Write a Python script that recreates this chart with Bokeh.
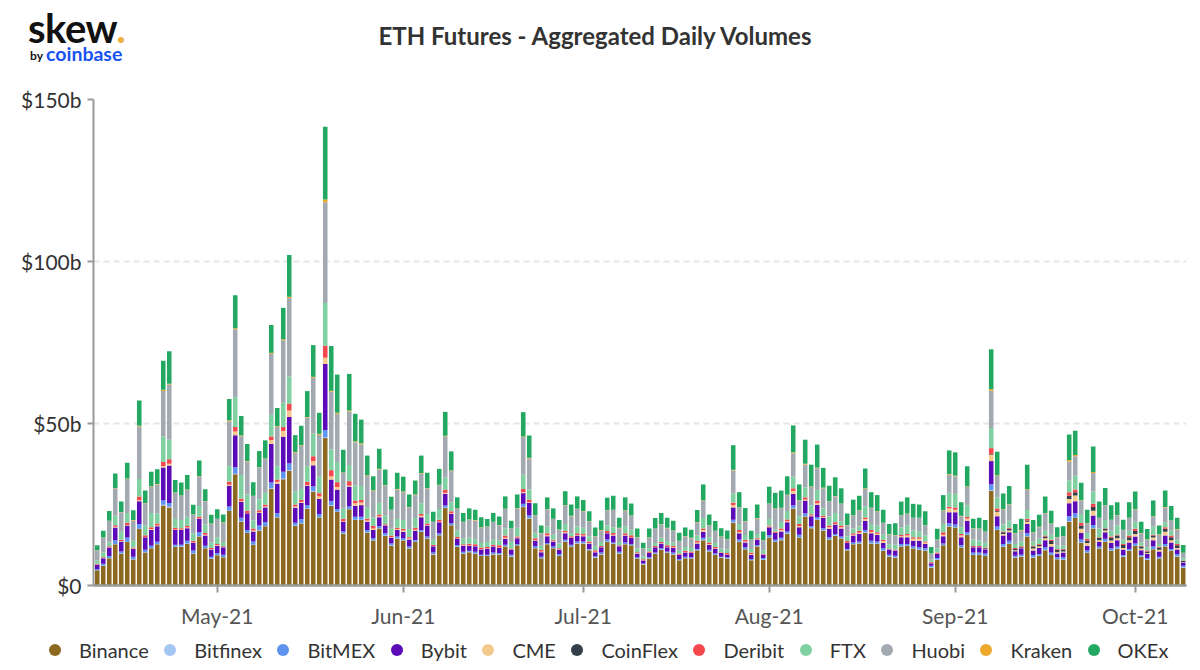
import pandas as pd
from bokeh.plotting import figure
from bokeh.layouts import column
from bokeh.models import Range1d, FixedTicker, DatetimeTickFormatter, Div
from bokeh.embed import file_html
from bokeh.resources import INLINE

START_DATE = "2021-04-11"
TITLE = "ETH Futures - Aggregated Daily Volumes"
EXCHANGES = ["Binance", "Bitfinex", "BitMEX", "Bybit", "CME", "CoinFlex",
             "Deribit", "FTX", "Huobi", "Kraken", "OKEx"]
COLORS = ["#8d6820", "#a3c6f5", "#5e93ef", "#5c0bb8", "#f4ca8c", "#343e48",
          "#f5484e", "#80d0a2", "#a2a9b0", "#eca92d", "#23a862"]
Y_TICKS = [0, 50, 100, 150]
Y_TICK_LABELS = ["$0", "$50b", "$100b", "$150b"]
MONTH_TICKS = ["2021-05-01", "2021-06-01", "2021-07-01", "2021-08-01", "2021-09-01", "2021-10-01"]

binance = [4.7, 6.1, 8.4, 12.7, 9.8, 13.4, 8.0, 17.4, 10.2, 11.5,
           12.7, 24.7, 24.1, 11.9, 11.9, 12.9, 9.8, 15.1, 11.5, 8.2,
           9.3, 8.7, 23.0, 34.3, 19.7, 16.2, 12.5, 17.0, 18.3, 29.9,
           21.0, 32.8, 35.4, 18.4, 19.1, 23.7, 29.0, 21.0, 45.5, 24.6,
           22.7, 16.0, 23.5, 20.2, 20.2, 16.3, 13.9, 17.6, 15.3, 12.3,
           14.4, 13.9, 11.4, 13.4, 16.5, 14.5, 9.6, 15.5, 23.9, 18.6,
           11.9, 9.8, 10.3, 9.8, 9.1, 9.1, 9.6, 9.6, 12.0, 8.9,
           12.4, 24.2, 20.7, 11.5, 8.4, 12.7, 11.5, 9.1, 13.5, 12.0,
           13.0, 13.0, 10.9, 8.6, 9.6, 13.5, 12.9, 9.9, 12.7, 12.4,
           8.3, 6.5, 8.3, 9.8, 11.0, 10.1, 9.6, 7.8, 8.4, 8.3,
           10.9, 14.0, 10.5, 9.4, 8.6, 8.3, 19.4, 13.5, 11.2, 7.8,
           12.0, 7.9, 14.8, 13.4, 14.0, 16.0, 23.7, 14.8, 21.3, 17.7,
           20.3, 17.0, 14.2, 15.3, 14.5, 10.9, 12.7, 13.0, 16.3, 13.0,
           12.9, 10.7, 8.9, 8.6, 12.0, 12.2, 11.4, 11.0, 10.7, 5.5,
           7.9, 12.4, 18.2, 17.9, 11.7, 15.6, 9.4, 9.4, 9.1, 29.2,
           17.1, 11.9, 12.9, 8.6, 8.9, 15.1, 8.6, 9.1, 10.9, 9.4,
           8.1, 7.9, 19.7, 20.8, 13.2, 10.1, 17.6, 11.4, 13.5, 10.7,
           11.3, 8.9, 10.7, 12.2, 8.9, 7.9, 11.2, 8.3, 12.0, 10.7,
           8.9, 5.5]

bitfinex = [0.1, 0.1, 0.1, 0.1, 0.1, 0.1, 0.1, 0.1, 0.1, 0.1,
            0.1, 0.2, 0.2, 0.1, 0.1, 0.1, 0.1, 0.1, 0.1, 0.1,
            0.1, 0.1, 0.1, 0.2, 0.1, 0.1, 0.1, 0.1, 0.1, 0.2,
            0.1, 0.2, 0.2, 0.1, 0.1, 0.1, 0.2, 0.1, 0.3, 0.2,
            0.1, 0.1, 0.1, 0.1, 0.1, 0.1, 0.1, 0.1, 0.1, 0.1,
            0.1, 0.1, 0.1, 0.1, 0.1, 0.1, 0.1, 0.1, 0.1, 0.1,
            0.1, 0.1, 0.1, 0.1, 0.1, 0.1, 0.1, 0.1, 0.1, 0.1,
            0.1, 0.1, 0.1, 0.1, 0.1, 0.1, 0.1, 0.1, 0.1, 0.1,
            0.1, 0.1, 0.1, 0.1, 0.1, 0.1, 0.1, 0.1, 0.1, 0.1,
            0.1, 0.1, 0.1, 0.1, 0.1, 0.1, 0.1, 0.1, 0.1, 0.1,
            0.1, 0.1, 0.1, 0.1, 0.1, 0.1, 0.1, 0.1, 0.1, 0.1,
            0.1, 0.1, 0.1, 0.1, 0.1, 0.1, 0.1, 0.1, 0.1, 0.1,
            0.1, 0.1, 0.1, 0.1, 0.1, 0.1, 0.1, 0.1, 0.1, 0.1,
            0.1, 0.1, 0.1, 0.1, 0.1, 0.1, 0.1, 0.1, 0.1, 0.1,
            0.1, 0.1, 0.1, 0.1, 0.1, 0.1, 0.1, 0.1, 0.1, 0.2,
            0.1, 0.1, 0.1, 0.1, 0.1, 0.1, 0.1, 0.1, 0.1, 0.1,
            0.1, 0.1, 0.1, 0.1, 0.1, 0.1, 0.1, 0.1, 0.1, 0.1,
            0.1, 0.1, 0.1, 0.1, 0.1, 0.1, 0.1, 0.1, 0.1, 0.1,
            0.1, 0.1]

bitmex = [0.3, 0.5, 0.6, 1.2, 0.6, 1.3, 0.8, 1.5, 0.7, 0.7,
          0.7, 1.4, 1.2, 0.6, 0.6, 0.8, 0.9, 1.2, 0.7, 0.6,
          0.6, 0.7, 1.3, 2.0, 1.1, 0.8, 1.0, 1.4, 1.1, 1.7,
          1.2, 2.1, 2.1, 0.9, 1.3, 1.0, 1.4, 1.0, 2.2, 1.3,
          0.8, 0.6, 0.8, 0.9, 0.9, 0.7, 0.6, 0.6, 0.7, 0.6,
          0.6, 0.6, 0.5, 0.5, 0.5, 0.5, 0.5, 0.5, 0.7, 0.5,
          0.5, 0.5, 0.3, 0.5, 0.3, 0.3, 0.5, 0.3, 0.5, 0.5,
          0.3, 0.9, 0.8, 0.5, 0.4, 0.3, 0.4, 0.5, 0.5, 0.5,
          0.5, 0.5, 0.3, 0.3, 0.5, 0.6, 0.3, 0.4, 0.5, 0.3,
          0.3, 0.2, 0.3, 0.3, 0.4, 0.3, 0.5, 0.3, 0.4, 0.3,
          0.3, 0.6, 0.4, 0.4, 0.2, 0.3, 0.8, 0.6, 0.5, 0.3,
          0.4, 0.5, 0.7, 0.6, 0.6, 0.6, 0.9, 0.8, 0.9, 0.5,
          0.7, 0.6, 0.6, 0.5, 0.5, 0.3, 0.5, 0.5, 0.7, 0.7,
          0.6, 0.7, 0.5, 0.5, 0.7, 0.5, 0.6, 0.7, 0.7, 0.5,
          0.5, 0.5, 0.9, 0.8, 0.7, 0.7, 0.7, 0.7, 0.7, 1.8,
          1.0, 0.8, 0.8, 0.5, 0.5, 0.9, 0.7, 0.5, 0.8, 0.7,
          0.5, 0.7, 1.6, 1.4, 0.9, 0.6, 1.0, 0.5, 0.8, 0.7,
          0.6, 0.4, 0.5, 0.7, 0.4, 0.4, 0.7, 0.5, 0.7, 0.5,
          0.7, 0.5]

bybit = [1.3, 1.7, 2.6, 3.9, 3.1, 3.7, 2.4, 7.0, 3.9, 4.8,
         4.8, 10.1, 11.5, 4.5, 4.5, 3.9, 2.3, 4.1, 3.1, 2.2,
         2.3, 2.3, 6.4, 9.9, 4.9, 5.2, 3.1, 3.9, 4.6, 11.9,
         9.1, 10.8, 14.3, 4.6, 5.0, 6.0, 6.5, 4.6, 20.4, 6.6,
         6.0, 3.0, 6.1, 3.4, 3.6, 2.6, 2.5, 2.8, 2.4, 1.7,
         2.0, 2.0, 2.2, 2.9, 4.0, 3.4, 1.9, 3.4, 3.6, 2.9,
         1.9, 1.9, 1.6, 1.7, 1.6, 1.8, 1.8, 1.6, 1.8, 1.6,
         1.8, 3.3, 3.9, 1.7, 1.4, 2.1, 1.6, 1.4, 2.0, 2.1,
         1.8, 1.6, 1.7, 1.3, 1.6, 1.9, 2.1, 1.7, 2.1, 1.9,
         1.2, 0.9, 1.3, 1.6, 1.5, 1.3, 1.4, 1.2, 1.3, 1.3,
         1.7, 1.9, 1.5, 1.4, 1.1, 0.8, 3.8, 1.9, 1.5, 1.2,
         1.7, 1.0, 2.4, 2.1, 2.0, 2.8, 3.6, 2.3, 3.9, 3.1,
         3.8, 3.1, 2.6, 2.9, 2.5, 1.8, 2.1, 2.3, 2.9, 2.3,
         2.0, 1.6, 1.6, 1.6, 2.1, 2.1, 1.7, 2.0, 1.3, 0.8,
         1.2, 2.2, 3.4, 3.8, 2.4, 3.6, 1.6, 1.6, 1.3, 7.2,
         3.2, 2.6, 2.6, 1.4, 2.0, 2.9, 1.4, 1.9, 2.2, 1.8,
         1.2, 1.5, 4.0, 3.7, 2.0, 1.5, 2.9, 1.5, 2.0, 1.6,
         2.0, 1.7, 2.0, 2.1, 1.5, 1.3, 2.0, 1.6, 2.6, 2.0,
         1.4, 0.9]

cme = [0.1, 0.1, 0.1, 0.2, 0.1, 0.2, 0.1, 0.3, 0.1, 0.3,
       0.2, 0.5, 0.6, 0.2, 0.2, 0.2, 0.2, 0.2, 0.3, 0.2,
       0.2, 0.1, 0.3, 1.1, 0.2, 0.1, 0.3, 0.2, 0.3, 1.2,
       0.6, 1.8, 2.0, 0.4, 0.3, 0.2, 1.3, 0.8, 1.9, 1.0,
       0.8, 0.1, 0.3, 0.8, 0.8, 0.4, 0.5, 0.3, 0.1, 0.2,
       0.3, 0.4, 0.3, 0.3, 0.4, 0.2, 0.1, 0.2, 0.3, 0.2,
       0.1, 0.1, 0.1, 0.1, 0.1, 0.1, 0.1, 0.1, 0.3, 0.1,
       0.1, 0.3, 0.2, 0.2, 0.2, 0.3, 0.2, 0.2, 0.3, 0.1,
       0.2, 0.2, 0.1, 0.1, 0.1, 0.1, 0.3, 0.1, 0.2, 0.1,
       0.1, 0.1, 0.1, 0.1, 0.1, 0.1, 0.2, 0.1, 0.1, 0.1,
       0.3, 0.5, 0.3, 0.1, 0.1, 0.1, 0.7, 0.4, 0.3, 0.3,
       0.2, 0.1, 0.2, 0.1, 0.4, 0.3, 0.9, 0.4, 0.3, 0.2,
       0.5, 0.3, 0.5, 0.2, 0.4, 0.1, 0.3, 0.4, 0.5, 0.4,
       0.4, 0.6, 0.1, 0.1, 0.3, 0.5, 0.6, 0.6, 0.5, 0.1,
       0.1, 0.5, 1.2, 0.8, 0.5, 0.7, 0.1, 0.1, 0.1, 2.0,
       1.4, 0.5, 0.6, 0.3, 0.1, 0.7, 0.6, 0.5, 0.6, 0.8,
       0.4, 0.3, 1.3, 1.8, 1.3, 0.8, 1.5, 0.5, 0.6, 0.8,
       0.6, 0.5, 0.7, 0.8, 0.5, 0.3, 0.8, 0.5, 1.2, 0.7,
       0.5, 0.2]

coinflex = [0.0] * 148 + [
            0.2, 0.2,
            0.2, 0.5, 0.5, 0.4, 0.2, 0.4, 0.6, 0.5, 0.5, 0.9,
            0.7, 0.5, 1.0, 1.0, 1.0, 0.8, 1.1, 0.7, 0.5, 0.8,
            0.8, 0.9, 0.9, 0.9, 0.6, 0.5, 0.6, 0.7, 0.9, 0.9,
            0.8, 0.4]

deribit = [0.2, 0.2, 0.3, 0.5, 0.4, 0.7, 0.3, 1.2, 0.5, 0.6,
           0.6, 1.3, 1.4, 0.5, 0.4, 0.5, 0.5, 0.5, 0.5, 0.3,
           0.3, 0.2, 0.9, 1.4, 0.8, 0.7, 0.6, 0.6, 0.6, 1.1,
           0.7, 1.2, 2.1, 0.6, 0.6, 1.0, 1.5, 1.0, 3.7, 1.9,
           1.5, 0.8, 1.4, 0.8, 0.8, 0.5, 0.8, 0.5, 0.3, 0.5,
           0.4, 0.5, 0.4, 0.6, 0.6, 0.4, 0.4, 0.6, 0.9, 0.6,
           0.5, 0.3, 0.5, 0.5, 0.5, 0.5, 0.5, 0.7, 0.7, 0.2,
           0.4, 1.0, 0.8, 0.6, 0.5, 0.6, 0.3, 0.2, 0.5, 0.4,
           0.5, 0.5, 0.5, 0.5, 0.3, 0.6, 0.5, 0.2, 0.5, 0.7,
           0.3, 0.3, 0.4, 0.3, 0.3, 0.5, 0.5, 0.3, 0.4, 0.4,
           0.5, 0.5, 0.5, 0.5, 0.2, 0.4, 0.8, 0.6, 0.5, 0.5,
           0.3, 0.2, 0.3, 0.4, 0.5, 0.6, 0.8, 0.6, 0.7, 0.4,
           0.8, 0.4, 0.5, 0.5, 0.5, 0.5, 0.4, 0.6, 0.5, 0.6,
           0.4, 0.4, 0.2, 0.2, 0.4, 0.5, 0.5, 0.5, 0.3, 0.3,
           0.4, 0.7, 0.5, 0.7, 0.5, 0.5, 0.3, 0.3, 0.2, 1.8,
           0.8, 0.3, 0.3, 0.3, 0.3, 0.5, 0.3, 0.2, 0.3, 0.4,
           0.3, 0.3, 1.1, 0.8, 0.8, 0.5, 1.0, 0.2, 0.2, 0.4,
           0.3, 0.3, 0.5, 0.7, 0.3, 0.3, 0.3, 0.3, 0.5, 0.5,
           0.4, 0.1]

ftx = [1.0, 1.5, 1.2, 2.9, 2.5, 3.0, 2.1, 5.4, 3.0, 4.4,
       3.1, 7.9, 6.0, 2.7, 2.5, 2.8, 2.3, 3.3, 2.6, 1.7,
       2.1, 1.3, 4.8, 9.2, 7.3, 5.0, 2.5, 3.4, 3.6, 6.7,
       4.1, 7.5, 8.4, 4.1, 3.4, 4.8, 7.0, 5.1, 13.2, 6.4,
       6.2, 3.1, 5.0, 4.7, 4.3, 3.4, 2.6, 3.6, 2.8, 2.1,
       2.7, 2.7, 2.5, 3.0, 3.3, 3.0, 1.5, 3.3, 3.8, 2.8,
       2.0, 1.8, 1.8, 1.6, 1.4, 1.5, 1.5, 1.5, 2.2, 2.0,
       2.7, 4.4, 3.1, 1.7, 1.3, 2.1, 1.6, 1.5, 2.1, 1.0,
       2.1, 1.9, 1.6, 1.2, 1.2, 1.8, 1.8, 1.0, 2.1, 1.7,
       1.1, 0.9, 1.1, 0.9, 1.3, 1.3, 1.0, 1.1, 1.2, 1.1,
       1.6, 3.2, 1.6, 1.2, 1.1, 1.1, 2.8, 1.9, 1.5, 1.1,
       1.2, 1.1, 2.0, 0.6, 2.0, 2.6, 3.6, 2.4, 3.1, 2.8,
       3.3, 2.3, 2.8, 2.9, 1.3, 1.5, 1.5, 1.3, 3.4, 1.9,
       2.1, 1.6, 1.3, 1.5, 2.3, 2.6, 2.1, 1.7, 1.8, 0.8,
       1.3, 2.6, 4.3, 4.2, 2.1, 3.6, 2.0, 1.7, 1.5, 6.2,
       3.4, 2.1, 2.2, 1.2, 1.5, 2.7, 1.2, 1.6, 1.5, 1.6,
       1.0, 1.0, 3.6, 4.3, 2.8, 1.8, 3.8, 2.6, 2.5, 1.8,
       2.8, 1.3, 1.5, 2.2, 1.0, 1.0, 2.5, 0.8, 1.5, 1.5,
       1.4, 0.7]

huobi = [3.1, 4.5, 6.6, 8.5, 6.0, 10.5, 6.3, 16.2, 6.9, 8.1,
         9.0, 13.9, 17.0, 8.1, 7.5, 8.3, 5.7, 9.2, 7.2, 5.7,
         5.6, 6.0, 13.9, 21.0, 12.0, 10.2, 7.5, 9.8, 10.5, 18.8,
         12.2, 19.3, 24.2, 11.9, 13.3, 15.0, 17.2, 12.9, 31.1, 17.8,
         14.9, 11.1, 16.5, 13.3, 12.9, 9.8, 8.2, 10.3, 9.2, 5.8,
         9.1, 8.6, 6.7, 7.1, 9.1, 7.9, 5.5, 7.4, 12.7, 9.6,
         6.7, 5.1, 5.6, 5.8, 4.8, 4.7, 5.5, 4.7, 6.0, 4.1,
         6.0, 11.6, 9.6, 5.3, 3.8, 5.3, 4.8, 4.2, 5.7, 5.2,
         5.4, 5.1, 4.6, 3.1, 3.6, 4.6, 5.3, 4.3, 4.9, 4.3,
         3.4, 2.4, 3.2, 4.4, 4.1, 4.0, 3.6, 2.8, 3.3, 3.0,
         4.1, 5.4, 3.6, 3.7, 3.6, 3.1, 7.1, 5.0, 4.2, 2.8,
         4.8, 3.0, 4.7, 6.4, 4.3, 4.9, 7.2, 4.8, 7.0, 5.6,
         6.7, 6.2, 4.6, 5.1, 5.4, 3.4, 4.0, 4.9, 5.4, 4.9,
         4.3, 3.6, 3.0, 2.9, 3.7, 3.6, 3.8, 4.2, 3.1, 1.7,
         2.6, 4.1, 5.6, 5.4, 3.4, 5.6, 3.4, 3.6, 3.4, 11.5,
         6.6, 4.6, 5.0, 3.3, 3.4, 6.2, 2.9, 3.6, 5.4, 3.3,
         2.6, 2.8, 5.9, 6.0, 4.2, 3.0, 5.7, 3.3, 4.5, 3.3,
         3.1, 3.0, 3.9, 3.7, 2.8, 2.4, 3.1, 2.9, 4.6, 3.1,
         3.1, 1.6]

kraken = [0.1, 0.1, 0.1, 0.1, 0.1, 0.1, 0.1, 0.2, 0.1, 0.1,
          0.1, 0.4, 0.3, 0.1, 0.1, 0.1, 0.1, 0.1, 0.1, 0.1,
          0.1, 0.1, 0.3, 0.3, 0.2, 0.1, 0.1, 0.1, 0.1, 0.3,
          0.2, 0.3, 0.4, 0.2, 0.2, 0.2, 0.3, 0.3, 0.8, 0.3,
          0.3, 0.1, 0.3, 0.3, 0.3, 0.2, 0.2, 0.2, 0.1, 0.1,
          0.2, 0.2, 0.1, 0.2, 0.2, 0.1, 0.1, 0.1, 0.2, 0.2,
          0.1, 0.1, 0.1, 0.1, 0.1, 0.1, 0.1, 0.1, 0.1, 0.1,
          0.1, 0.2, 0.2, 0.1, 0.1, 0.1, 0.1, 0.1, 0.1, 0.1,
          0.1, 0.1, 0.1, 0.1, 0.1, 0.1, 0.1, 0.1, 0.1, 0.1,
          0.1, 0.1, 0.1, 0.1, 0.1, 0.1, 0.1, 0.1, 0.1, 0.1,
          0.1, 0.1, 0.1, 0.1, 0.1, 0.1, 0.2, 0.1, 0.1, 0.1,
          0.1, 0.1, 0.1, 0.1, 0.1, 0.1, 0.3, 0.1, 0.3, 0.2,
          0.2, 0.2, 0.1, 0.1, 0.1, 0.1, 0.1, 0.1, 0.2, 0.1,
          0.1, 0.1, 0.1, 0.1, 0.1, 0.1, 0.1, 0.1, 0.1, 0.1,
          0.1, 0.1, 0.2, 0.2, 0.1, 0.2, 0.1, 0.1, 0.1, 0.5,
          0.2, 0.1, 0.1, 0.1, 0.1, 0.2, 0.1, 0.1, 0.1, 0.1,
          0.1, 0.1, 0.4, 0.4, 0.1, 0.1, 0.3, 0.1, 0.1, 0.1,
          0.1, 0.1, 0.1, 0.1, 0.1, 0.1, 0.1, 0.1, 0.1, 0.1,
          0.1, 0.1]

okex = [1.5, 2.1, 3.0, 4.5, 3.2, 4.9, 3.0, 7.8, 3.8, 4.5,
        4.6, 9.0, 10.0, 3.9, 4.0, 4.5, 3.0, 4.8, 3.6, 2.7,
        2.9, 2.4, 6.6, 10.2, 6.0, 5.3, 4.2, 5.0, 5.6, 8.6,
        5.6, 9.7, 12.9, 5.2, 6.0, 8.0, 9.8, 6.5, 22.5, 13.8,
        11.8, 7.0, 11.3, 8.5, 7.3, 6.1, 4.3, 6.2, 4.8, 4.0,
        5.0, 4.6, 3.9, 4.3, 5.4, 4.7, 3.1, 4.9, 7.4, 5.9,
        3.4, 2.7, 3.4, 3.2, 3.1, 2.3, 2.7, 2.6, 3.8, 2.4,
        4.2, 7.5, 6.9, 3.7, 2.3, 3.6, 3.2, 2.9, 4.3, 3.5,
        3.8, 3.4, 3.0, 2.6, 3.0, 3.8, 4.3, 3.1, 4.0, 3.7,
        2.7, 1.7, 2.7, 3.2, 3.5, 3.1, 3.0, 2.5, 2.6, 2.5,
        3.7, 4.9, 3.3, 3.0, 2.6, 2.7, 7.6, 4.7, 4.0, 2.7,
        4.2, 2.7, 5.2, 4.8, 5.3, 5.7, 8.3, 4.9, 7.4, 6.7,
        7.1, 6.1, 4.8, 5.8, 4.7, 3.5, 4.8, 4.5, 6.1, 4.8,
        5.0, 4.0, 3.2, 3.6, 4.2, 5.0, 4.3, 4.1, 4.3, 2.0,
        3.3, 4.7, 7.3, 7.2, 4.2, 6.2, 2.9, 3.3, 3.5, 12.3,
        7.3, 4.9, 5.6, 2.8, 3.5, 7.6, 3.7, 3.7, 5.1, 4.0,
        3.0, 3.1, 7.9, 7.5, 5.3, 4.1, 7.9, 5.0, 5.3, 4.5,
        4.0, 3.1, 4.8, 5.5, 3.5, 3.1, 4.8, 2.7, 5.1, 4.4,
        3.5, 2.4]

SERIES = [binance, bitfinex, bitmex, bybit, cme, coinflex,
          deribit, ftx, huobi, kraken, okex]

dates = pd.date_range(START_DATE, periods=len(binance), freq="D")
data = {"date": dates}
for name, vals in zip(EXCHANGES, SERIES):
    data[name] = vals

W = 1192
HEADER_H = 70
MAIN_H = 561
LEG_H = 38

# ---- header (logo + title) ----
header = Div(width=W, height=HEADER_H, margin=(0, 0, 0, 0), text=f"""
<div style="position:relative;width:{W}px;height:{HEADER_H}px;font-family:Lato,sans-serif;">
  <div style="position:absolute;left:28px;top:11.5px;height:32px;font-size:40px;line-height:32px;font-weight:bold;color:#111;white-space:nowrap;letter-spacing:-0.5px;">skew<span style="color:#eeb13c;">.</span></div>
  <div style="position:absolute;left:30px;top:51.4px;height:10px;font-size:12px;line-height:10px;font-weight:bold;color:#111;">by</div>
  <div style="position:absolute;left:46px;top:45.5px;height:16px;font-size:19.5px;line-height:16px;font-weight:bold;color:#1652f0;">coinbase</div>
  <div style="position:absolute;left:0;top:24.4px;width:1190px;text-align:center;font-size:24px;line-height:1;font-weight:bold;color:#333;white-space:nowrap;">{TITLE}</div>
</div>""")

# ---- main chart ----
DAY = 86400000.0
x0 = pd.Timestamp(START_DATE)
p = figure(width=W, height=MAIN_H, x_axis_type="datetime",
           x_range=Range1d(x0 - pd.Timedelta(hours=15), x0 + pd.Timedelta(hours=181.55 * 24)),
           y_range=Range1d(0, 150),
           output_backend="svg", toolbar_location=None,
           min_border_left=93, min_border_right=6, min_border_top=29, min_border_bottom=46)
p.title.visible = False
p.outline_line_color = None

p.vbar_stack(EXCHANGES, x="date", width=0.76 * DAY, color=COLORS, source=data, line_color=None)

p.yaxis.ticker = FixedTicker(ticks=Y_TICKS)
p.yaxis.major_label_overrides = {t: l for t, l in zip(Y_TICKS, Y_TICK_LABELS)}
p.yaxis.axis_line_color = "#999999"
p.yaxis.axis_line_width = 2
p.yaxis.major_tick_line_color = "#999999"
p.yaxis.major_tick_line_width = 2
p.yaxis.major_tick_out = 6
p.yaxis.major_tick_in = 0
p.yaxis.minor_tick_line_color = None
p.yaxis.major_label_text_font = "Lato"
p.yaxis.major_label_text_font_size = "21px"
p.yaxis.major_label_text_color = "#333333"
p.yaxis.major_label_standoff = 6

month_ms = [pd.Timestamp(m).value / 1e6 for m in MONTH_TICKS]
p.xaxis.ticker = FixedTicker(ticks=month_ms)
p.xaxis.formatter = DatetimeTickFormatter(months="%b-%y", days="%b-%y", years="%b-%y",
                                          hours="%b-%y", minutes="%b-%y")
p.xaxis.axis_line_color = "#999999"
p.xaxis.axis_line_width = 2.5
p.xaxis.major_tick_line_color = "#999999"
p.xaxis.major_tick_line_width = 2
p.xaxis.major_tick_out = 7
p.xaxis.major_tick_in = 0
p.xaxis.minor_tick_line_color = None
p.xaxis.major_label_text_font = "Lato"
p.xaxis.major_label_text_font_size = "21px"
p.xaxis.major_label_text_color = "#555555"
p.xaxis.major_label_standoff = 10

p.xgrid.visible = False
p.ygrid.grid_line_color = "#e6e6e6"
p.ygrid.grid_line_width = 2
p.ygrid.grid_line_dash = "6 4"

# ---- legend strip (circle swatch + exchange name) ----
legend_items = "".join(
    f'<span style="display:inline-flex;align-items:center;margin-right:15.5px;">'
    f'<span style="display:inline-block;width:12px;height:12px;border-radius:50%;background:{col};margin-right:18px;"></span>'
    f'<span style="font-size:20px;line-height:1;color:#333;">{name}</span></span>'
    for name, col in zip(EXCHANGES, COLORS))
legend_div = Div(width=W, height=LEG_H, margin=(0, 0, 0, 0), text=f"""
<div style="position:relative;width:{W}px;height:{LEG_H}px;font-family:Lato,sans-serif;">
  <div style="position:absolute;left:49px;top:0;height:{LEG_H}px;display:flex;align-items:center;white-space:nowrap;">{legend_items}</div>
</div>""")

layout = column(header, p, legend_div, spacing=0)
open("out.html", "w").write(file_html(layout, INLINE))
